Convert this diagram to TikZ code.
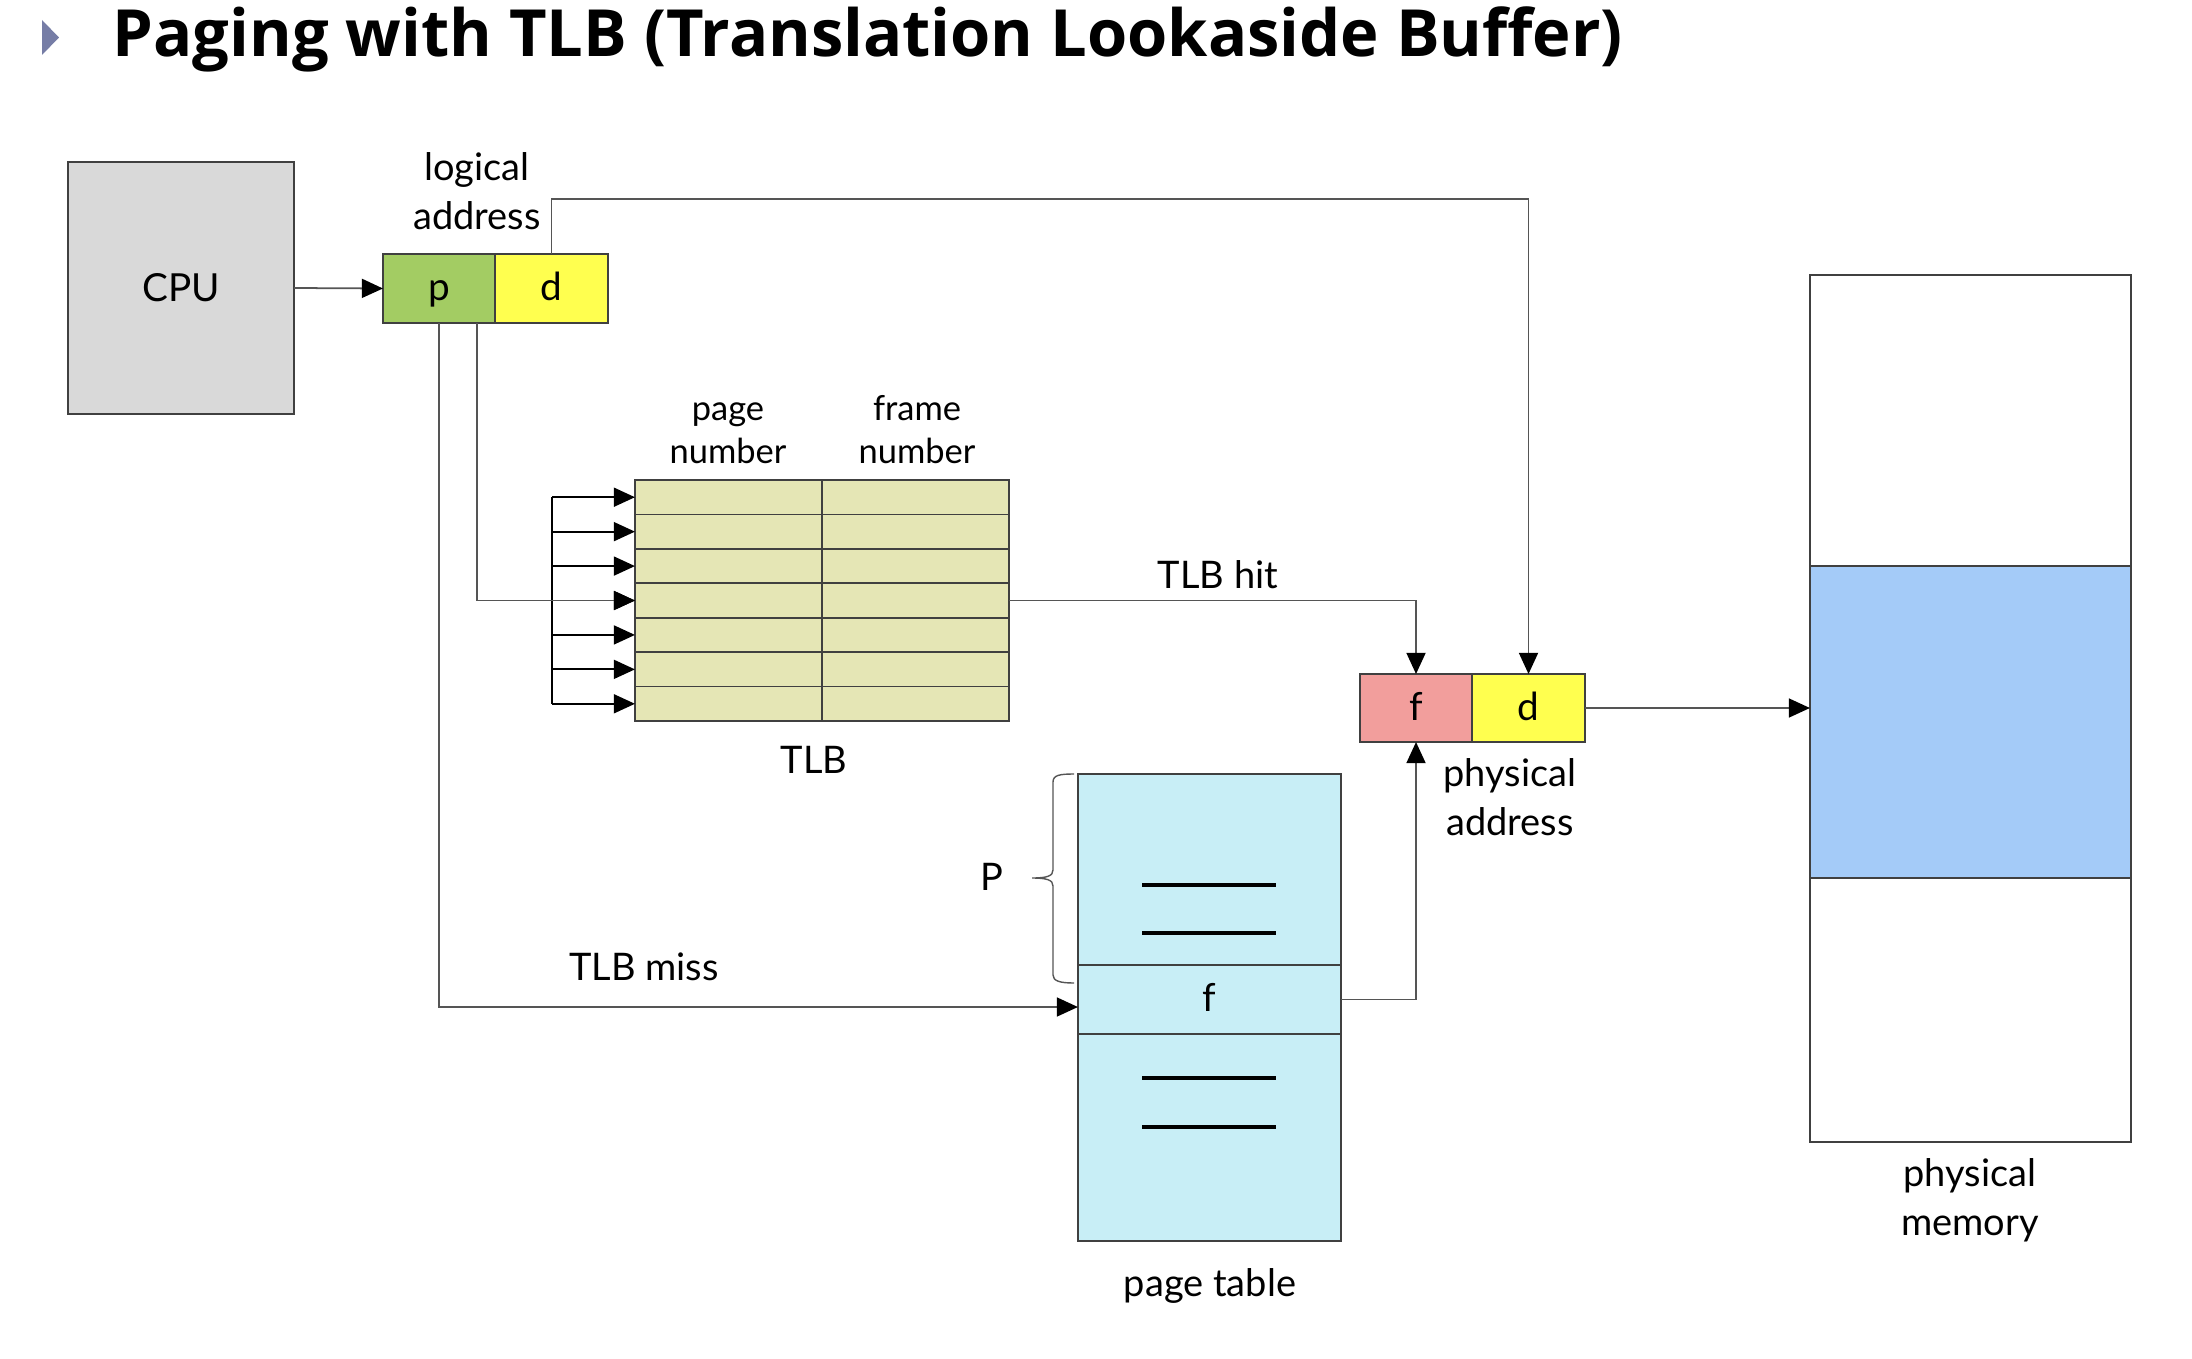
\documentclass[tikz,border=0pt]{standalone}
\usepackage{fontspec}
\setmainfont{Lato}
\newfontfamily\titlefam{Open Sans}
\usetikzlibrary{arrows.meta,calc}
\definecolor{cpugray}{HTML}{D9D9D9}
\definecolor{pgreen}{HTML}{A3CC63}
\definecolor{dyellow}{HTML}{FFFF4F}
\definecolor{fpink}{HTML}{F29E9C}
\definecolor{tlbfill}{HTML}{E5E6B5}
\definecolor{ptcyan}{HTML}{C8EEF6}
\definecolor{memblue}{HTML}{A4CBF8}
\definecolor{edge}{HTML}{404040}
\definecolor{conn}{HTML}{555555}
\definecolor{bullet}{HTML}{767DA6}
\tikzset{
  cell/.style={draw=edge, line width=0.5pt, inner sep=0pt, outer sep=0pt, minimum height=0.69cm},
  ctext/.style={font=\fontsize{11}{14}\selectfont, text height=8.5pt, text depth=1.5pt},
  lbl/.style={font=\fontsize{10.8}{14}\selectfont, align=center, inner sep=0pt},
  conn/.style={draw=conn, line width=0.5pt},
  arr/.style={conn, -{Triangle[length=6pt,width=5.4pt,color=black]}},
}
\begin{document}
\begin{tikzpicture}[x={(0.01cm,0)}, y={(0,-0.01cm)}]
\useasboundingbox (0,0) rectangle (2192,1358);
% title
\fill[bullet] (42,20) -- (59,37.5) -- (42,55) -- cycle;
\node[anchor=base west, inner sep=0pt, font=\titlefam\bfseries\fontsize{18.5}{21}\selectfont] (title) at (112,57) {Paging with TLB (Translation Lookaside Buffer)};
% CPU
\node[cell, fill=cpugray, minimum width=2.26cm, minimum height=2.52cm, font=\fontsize{11}{14}\selectfont] (cpu) at (181,288) {CPU};
% logical address
\node[cell, ctext, fill=pgreen, minimum width=1.12cm] (lp) at (439,288.5) {p};
\node[cell, ctext, fill=dyellow, minimum width=1.13cm] (ld) at (551.5,288.5) {d};
\node[lbl] (lal) at (477,191) {logical\\address};
% TLB
\foreach \i in {1,...,7}{
  \node[cell, fill=tlbfill, minimum width=1.87cm, minimum height=0.3443cm] (tl\i) at (728.5,{480+34.43*(\i-0.5)}) {};
  \node[cell, fill=tlbfill, minimum width=1.87cm, minimum height=0.3443cm] (tr\i) at (915.5,{480+34.43*(\i-0.5)}) {};
}
\node[lbl, anchor=base, font=\fontsize{9.8}{12}\selectfont] (pnl) at (728,463) {page\\number};
\node[lbl, anchor=base, font=\fontsize{9.8}{12}\selectfont] (fnl) at (917,463) {frame\\number};
\node[lbl] (tlbl) at (814,760) {TLB};
% physical address
\node[cell, ctext, fill=fpink, minimum width=1.12cm, minimum height=0.68cm] (pf) at (1416,708) {f};
\node[cell, ctext, fill=dyellow, minimum width=1.13cm, minimum height=0.68cm] (pd) at (1528.5,708) {d};
\node[lbl] (pal) at (1510,797) {physical\\address};
% page table
\node[cell, fill=ptcyan, minimum width=2.63cm, minimum height=4.67cm] (pt) at (1209.5,1007.5) {};
\node[cell, ctext, fill=ptcyan, minimum width=2.63cm, minimum height=0.69cm] (ptf) at (1209.5,999.5) {f};
\foreach \yy in {885,933,1078,1127}{
  \draw[black, line width=0.9pt] (1142,\yy) -- (1276,\yy);
}
\node[lbl] (ptl) at (1210,1286) {page table};
\draw[conn, line width=0.4pt] (1074,774) .. controls (1060,774) and (1053,775) .. (1053,782)
  -- (1053,870) .. controls (1053,876) and (1047,878) .. (1032,878)
  .. controls (1047,878) and (1053,880) .. (1053,886)
  -- (1053,975) .. controls (1053,981) and (1060,983) .. (1074,983);
\node[lbl] (pl) at (992,877) {P};
% physical memory
\node[cell, fill=white, minimum width=3.21cm, minimum height=8.67cm] (mem) at (1970.5,708.5) {};
\node[cell, fill=memblue, minimum width=3.21cm, minimum height=3.12cm] (memb) at (1970.5,722) {};
\node[lbl] (pml) at (1970,1200) {physical\\memory};
% connectors
\draw[arr] (cpu.east) -- (lp.west);
\coordinate (dtop) at (551.5,199);
\draw[arr] (ld.north) -- (dtop) -| (pd.north);
\coordinate (vtop) at (552,{480+34.43*0.5});
\coordinate (vbot) at (552,{480+34.43*6.5});
\draw[draw=black, line width=0.5pt] (vtop) -- (vbot);
\foreach \i in {1,...,7}{
  \draw[arr, draw=black] (552,{480+34.43*(\i-0.5)}) -- (tl\i.west);
}
\draw[arr] ([xshift=0.38cm]lp.south) |- (tl4.west);
\draw[arr] (tr4.east) -| (pf.north);
\node[lbl] (hitl) at (1218,575) {TLB hit};
\coordinate (missin) at ([yshift=-0.075cm]ptf.west);
\draw[arr] (lp.south) |- (missin);
\node[lbl] (missl) at (644,967) {TLB miss};
\draw[arr] (ptf.east) -| (pf.south);
\draw[arr] (pd.east) -- (pd.east -| mem.west);
\end{tikzpicture}
\end{document}
